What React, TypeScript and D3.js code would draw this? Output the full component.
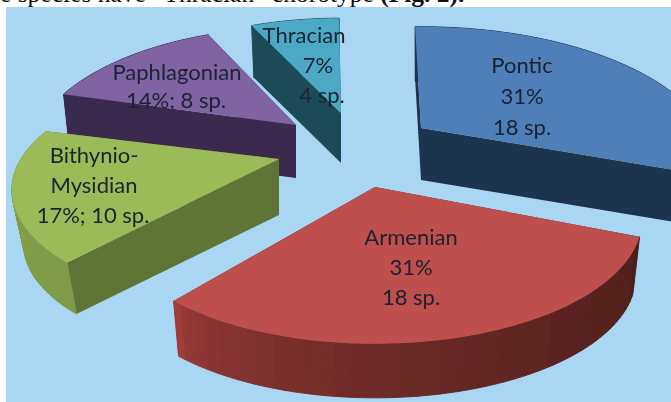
import React from "react";
import * as d3 from "d3";

const regions = ["Pontic", "Armenian", "Bithynio-Mysidian", "Paphlagonian", "Thracian"];
const species = [18, 18, 10, 8, 4];
const labelLines = [
  ["Pontic", "31%", "18 sp."],
  ["Armenian", "31%", "18 sp."],
  ["Bithynio-", "Mysidian", "17%; 10 sp."],
  ["Paphlagonian", "14%; 8 sp."],
  ["Thracian", "7%", "4 sp."],
];
const caption = "e species have \u201CThracian\u201D chorotype";
const captionRef = " (Fig. 2).";

// layout only
const W = 671, H = 402;
const topColors = ["#4f7fb8", "#bf504e", "#9bbb59", "#8064a2", "#4ba9c6"];
const sideColors = ["#1f344d", "#5a2320", "#5f7535", "#3a2a4e", "#1f4c58"];
const wallFrom = ["#1f344d", "#a03d3b", "#8aa84e", "#3a2a4e", "#1f4c58"];
const wallTo = ["#1f344d", "#4e1f1c", "#7f9a48", "#3a2a4e", "#1f4c58"];
const apexX = [421, 375, 279, 296, 341];
const apexY = [128, 187, 159, 125, 113];
const turnDeg = [1.5, 4, 1, 3, 2.5];
const trimDeg = [0, 6, -2, 0, 0];
const radiusScale = [1.1, 1, 1, 1, 1];
const heightScale = [1, 1, 0.96, 1.06, 1.03];
const depths = [52, 58, 56, 53, 50];
const shrink = [0.975, 0.975, 0.955, 0.975, 0.975];
const drawOrder = [4, 3, 0, 2, 1];
const labelX = [[522], [411], [94, 94, 93], [177, 176], [304, 318, 322]];
const labelY = [[65, 96, 127], [237, 267, 297], [155, 185, 215], [72, 100], [35, 65, 95]];
const RX = 258, RY = 116, K = 0.26;

const pieGen = d3.pie<number>().sort(null).startAngle((-3 * Math.PI) / 180).endAngle(((360 - 3) * Math.PI) / 180);
const arcs = pieGen(species);

const rim = (a: number, r: number, h: number): [number, number] => {
  const s = Math.sin(a), c = -Math.cos(a);
  const w = 1 - K * c;
  return [(RX * r * s) / w, (RY * r * h * c) / w];
};
const line = d3.line<[number, number]>();

export default function App() {
  const order = drawOrder.map((i) => ({ i, a: arcs[i] }));
  return (
    <svg width={W} height={H} style={{ position: "absolute", left: 0, top: 0, background: "#fff" }}>
      <defs>
        <filter id="soft" x="-5%" y="-5%" width="110%" height="110%">
          <feGaussianBlur stdDeviation="0.5" />
        </filter>
      </defs>
      <rect x={6} y={7} width={W - 6} height={H - 7} fill="#a9d6f3" />
      <text x={0} y={2} fontFamily="'Liberation Serif'" fontSize={25.5} fill="#111">
        {caption}<tspan fontWeight="bold">{captionRef}</tspan>
      </text>
      <g filter="url(#soft)">
        {order.map(({ i, a }) => {
          const ax = apexX[i], ay = apexY[i];
          const turn = (turnDeg[i] * Math.PI) / 180;
          const span = a.endAngle - a.startAngle - (trimDeg[i] * Math.PI) / 180;
          const ts = d3.range(0, 61).map((j) => turn + a.startAngle + (span * j) / 60);
          const top: [number, number][] = ts.map((t) => {
            const p = rim(t, radiusScale[i], heightScale[i]);
            return [ax + p[0], ay + p[1]];
          });
          const bot: [number, number][] = ts.map((t) => {
            const p = rim(t, radiusScale[i], heightScale[i]);
            return [ax + p[0] * shrink[i], ay + p[1] * shrink[i] + depths[i]];
          });
          const apex: [number, number] = [ax, ay];
          const apexB: [number, number] = [ax, ay + depths[i]];
          const colour = d3.scaleLinear<string>().domain([0, 1]).range([wallFrom[i], wallTo[i]]).interpolate(d3.interpolateRgb);
          const lr = top[0][0] < top[60][0];
          const tone = (j: number) => colour(Math.sqrt(lr ? j / 59 : 1 - j / 59));
          return (
            <g key={regions[i]}>
              <path d={line([apex, top[0], bot[0], apexB])! + "Z"} fill={sideColors[i]} />
              <path d={line([apex, top[60], bot[60], apexB])! + "Z"} fill={sideColors[i]} />
              {d3.range(0, 60).map((j) => (
                <path key={j} d={line([top[j], top[j + 1], bot[j + 1], bot[j]])! + "Z"}
                  fill={tone(j)} stroke={tone(j)} strokeWidth={1} />
              ))}
              <path d={line([apex, ...top])! + "Z"} fill={topColors[i]} />
            </g>
          );
        })}
        {labelLines.map((ls, i) => ls.map((t, k) => (
          <text key={i + "-" + k} x={labelX[i][k] ?? labelX[i][0]} y={labelY[i][k]} dy="0.35em" textAnchor="middle"
            fontFamily="Lato" fontSize={22} fill="#1a2230">{t}</text>
        )))}
      </g>
    </svg>
  );
}
